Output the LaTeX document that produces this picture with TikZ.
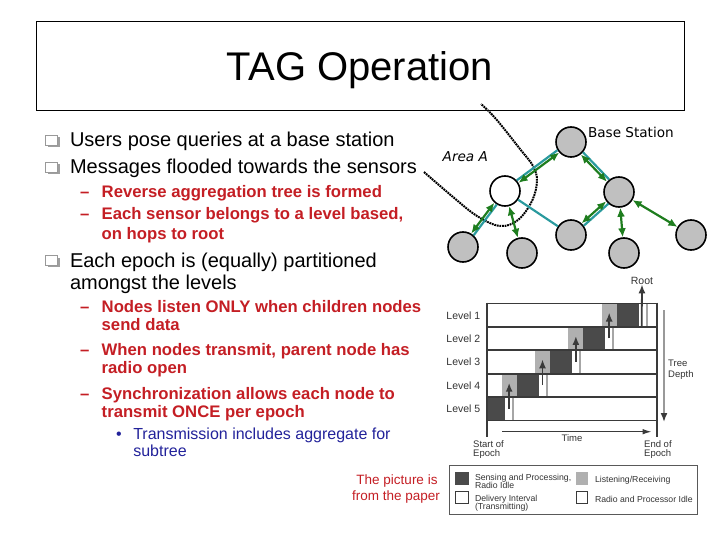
\documentclass[tikz,border=0pt]{standalone}
\usepackage{fontspec}
\setmainfont{Liberation Sans}
\newfontfamily\comicf{DejaVu Sans}
\usetikzlibrary{arrows.meta,calc}
\definecolor{redt}{HTML}{C41E24}
\definecolor{navyt}{HTML}{22229A}
\definecolor{tealc}{HTML}{2A9A9E}
\definecolor{grnc}{HTML}{1E7D1E}
\definecolor{nodegray}{HTML}{C0C0C0}
\definecolor{darkblk}{HTML}{4A4A4A}
\definecolor{lightblk}{HTML}{B0B0B0}
\definecolor{chartln}{HTML}{3A3A3A}
\definecolor{charttxt}{HTML}{333333}
\begin{document}
\begin{tikzpicture}[x=1pt,y=-1pt,
  txt/.style={anchor=base west,inner sep=0pt,outer sep=0pt},
  bigtxt/.style={txt,font=\fontsize{20}{24}\selectfont},
  redtxt/.style={txt,text=redt,font=\fontsize{16.7}{20}\selectfont\bfseries},
  navytxt/.style={txt,text=navyt,font=\fontsize{16}{19}\selectfont},
  sensor/.style={circle,draw=black,line width=1.6pt,fill=nodegray,minimum size=30pt,inner sep=0pt},
  sensorw/.style={sensor,fill=white},
  garr/.style={draw=grnc,line width=2.2pt,{Latex[length=9pt,width=8pt]}-{Latex[length=9pt,width=8pt]}},
  tline/.style={draw=tealc,line width=2.2pt},
  chtxt/.style={inner sep=0pt,text=charttxt,font=\fontsize{10.5}{12}\selectfont},
  smtxt/.style={txt,text=charttxt,font=\fontsize{8.7}{10}\selectfont},
  uparr/.style={draw=chartln,line width=1.8pt,-{Latex[length=9pt,width=7pt]}},
  rowln/.style={draw=chartln,line width=1.8pt}
]
\useasboundingbox (0,0) rectangle (720,540);

% title
\draw[line width=1pt] (36.5,21.5) rectangle (684.5,111);
\node[inner sep=0pt,anchor=base,font=\fontsize{40}{46}\selectfont] (title) at (360,81) {TAG Operation};

% bullet squares
\foreach \yb in {147,174,267} {
  \fill[gray!75] (47.5,\yb-9.5) rectangle (59.5,\yb);
  \filldraw[fill=white,draw=gray!80,line width=0.8pt] (45.5,\yb-11.5) rectangle (57.5,\yb-1.8);
}

% black text
\node[bigtxt] (t1) at (70,147) {Users pose queries at a base station};
\node[bigtxt] (t2) at (70,174) {Messages flooded towards the sensors};
\node[bigtxt] (t3) at (70,267) {Each epoch is (equally) partitioned};
\node[bigtxt] (t4) at (70,289) {amongst the levels};

% red text
\foreach \yb in {197.3,220,312.7,355.3,399} {
  \node[redtxt] at (80,\yb) {--};
}
\node[redtxt] (r1) at (101.7,197.3) {Reverse aggregation tree is formed};
\node[redtxt] (r2) at (101.7,220) {Each sensor belongs to a level based,};
\node[redtxt] (r3) at (101.7,240) {on hops to root};
\node[redtxt] (r4) at (101.7,312.7) {Nodes listen ONLY when children nodes};
\node[redtxt] (r5) at (101.7,330.7) {send data};
\node[redtxt] (r6) at (101.7,355.3) {When nodes transmit, parent node has};
\node[redtxt] (r7) at (101.7,373.3) {radio open};
\node[redtxt] (r8) at (101.7,399) {Synchronization allows each node to};
\node[redtxt] (r9) at (101.7,417.7) {transmit ONCE per epoch};

% navy text
\node[navytxt] (nb) at (116,439.3) {\textbullet};
\node[navytxt] (n1) at (133.3,439.3) {Transmission includes aggregate for};
\node[navytxt] (n2) at (133.3,456) {subtree};

% picture note
\node[inner sep=0pt,anchor=base,text=redt,font=\fontsize{13.5}{16}\selectfont] (p1) at (397,484) {The picture is};
\node[inner sep=0pt,anchor=base,text=redt,font=\fontsize{13.5}{16}\selectfont] (p2) at (396,500.5) {from the paper};

% ---------- tree ----------
\draw[line width=2pt,dash pattern=on 1.8pt off 0.8pt] plot[smooth,tension=0.6] coordinates
  {(424,172) (453,197) (477,216) (500,226) (518,220) (532,201) (537,181) (533,166) (520,149) (496,119) (481,104)};

\node[sensor] (base) at (571,142) {};
\node[sensorw] (wn) at (505,191) {};
\node[sensor] (rm) at (619,192) {};
\node[sensor] (b1) at (463,247) {};
\node[sensor] (b2) at (522,253) {};
\node[sensor] (b3) at (571,235) {};
\node[sensor] (b4) at (624,253) {};
\node[sensor] (b5) at (691,235) {};

\draw[tline,transform canvas={shift={(-0.9,-1.2)}}] (base) -- (wn);
\draw[garr,transform canvas={shift={(0.9,1.2)}}] (base) -- (wn);
\draw[tline,transform canvas={shift={(1.1,-1.1)}}] (base) -- (rm);
\draw[garr,transform canvas={shift={(-1.1,1.1)}}] (base) -- (rm);
\draw[tline,transform canvas={shift={(1.2,0.9)}}] (wn) -- (b1);
\draw[garr,transform canvas={shift={(-1.2,-0.9)}}] (wn) -- (b1);
\draw[garr] (wn) -- (b2);
\draw[tline] (wn) -- (b3);
\draw[tline,transform canvas={shift={(1.1,1.2)}}] (rm) -- (b3);
\draw[garr,transform canvas={shift={(-1.1,-1.2)}}] (rm) -- (b3);
\draw[garr] (rm) -- (b4);
\draw[garr] (rm) -- (b5);

\node[txt,font=\comicf\fontsize{13.6}{16}\selectfont] (bsl) at (588,137.3) {Base Station};
\node[txt,font=\comicf\itshape\fontsize{13.6}{16}\selectfont] (arl) at (442.7,161.7) {Area A};

% ---------- timing chart ----------
\begin{scope}
\clip (486.7,303.5) rectangle (656.7,420.5);
\foreach \k/\g in {1/601.7,2/568.35,3/535,4/501.65,5/468.3} {
  \pgfmathsetmacro\yt{303.5+23.4*(\k-1)}
  \pgfmathsetmacro\yb{\yt+23.4}
  \fill[lightblk] (\g,\yt) rectangle ({\g+15},\yb);
  \fill[darkblk] ({\g+15},\yt) rectangle ({\g+37},\yb);
  \draw[draw=gray!70,line width=2pt] ({\g+45},\yt) -- ({\g+45},\yb);
}
\end{scope}
\foreach \k in {0,...,5} {
  \draw[rowln] (486.7,{303.5+23.4*\k}) -- (656.7,{303.5+23.4*\k});
}
\draw[rowln] (486.7,302.6) -- (486.7,437);
\draw[rowln] (656.7,302.6) -- (656.7,437);

% transmit arrows
\foreach \k/\gp in {2/601.7,3/568.35,4/535,5/501.65} {
  \pgfmathsetmacro\yc{303.5+23.4*(\k-1)}
  \draw[uparr] ({\gp+7.5},{\yc+11.5}) -- ({\gp+7.5},{\yc-14.4});
}
\node[chtxt,anchor=base] (root) at (642,284) {Root};
\coordinate (rootst) at (641.7,326);
\draw[uparr] (rootst) -- (root.south);

% level labels
\foreach \k in {1,...,5} {
  \node[chtxt,anchor=base east] at (480.5,{303.5+23.4*(\k-1)+15.5}) {Level \k};
}

% tree depth
\coordinate (tdtop) at (664,310);
\coordinate (tdbot) at (664,422);
\draw[draw=gray!80,line width=1.6pt,-{Latex[length=9pt,width=7pt,fill=chartln,color=chartln]}] (tdtop) -- (tdbot);
\node[chtxt,anchor=base west,font=\fontsize{9.5}{11}\selectfont] (td1) at (668,366.5) {Tree};
\node[chtxt,anchor=base west,font=\fontsize{9.5}{11}\selectfont] (td2) at (668,377.5) {Depth};

% time arrow
\coordinate (tst) at (502,431.7);
\coordinate (ten) at (651.7,431.7);
\draw[draw=chartln,line width=1.3pt,-{Latex[length=9pt,width=5.5pt]}] (tst) -- (ten);
\node[chtxt,anchor=base,font=\fontsize{9.5}{11}\selectfont] (time) at (572,441.5) {Time};
\node[chtxt,anchor=base west,font=\fontsize{9.5}{11}\selectfont] (se1) at (473,447.5) {Start of};
\node[chtxt,anchor=base west,font=\fontsize{9.5}{11}\selectfont] (se2) at (473,456.5) {Epoch};
\node[chtxt,anchor=base west,font=\fontsize{9.5}{11}\selectfont] (ee1) at (644,447.5) {End of};
\node[chtxt,anchor=base west,font=\fontsize{9.5}{11}\selectfont] (ee2) at (644,456.5) {Epoch};

% legend
\draw[draw=gray!70!black,line width=1pt] (449.3,465) rectangle (697.3,514.3);
\fill[darkblk] (455.3,471.7) rectangle (469.3,485);
\fill[lightblk] (575.7,471.7) rectangle (588.3,485);
\draw[draw=chartln,line width=1pt] (455.8,491.5) rectangle (468.8,503.8);
\draw[draw=chartln,line width=1pt] (576.2,491.5) rectangle (587.8,503.8);
\node[smtxt] (lg1) at (475,480.3) {Sensing and Processing,};
\node[smtxt] (lg2) at (475,488) {Radio Idle};
\node[smtxt] (lg3) at (595,482.5) {Listening/Receiving};
\node[smtxt] (lg4) at (475,501.5) {Delivery Interval};
\node[smtxt] (lg5) at (475,509) {(Transmitting)};
\node[smtxt] (lg6) at (595,502.5) {Radio and Processor Idle};
\end{tikzpicture}
\end{document}
